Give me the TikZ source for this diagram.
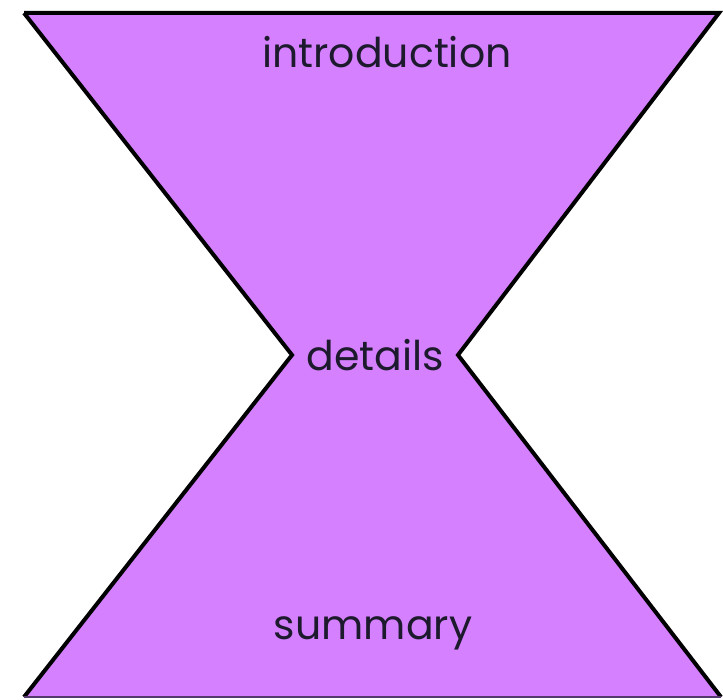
\documentclass[tikz,border=0pt]{standalone}
\usepackage{fontspec}
\setmainfont{Poppins}
\usetikzlibrary{calc}
\definecolor{hourfill}{HTML}{D580FF}
\definecolor{hourtext}{HTML}{1E1A2E}

\begin{document}
\begin{tikzpicture}[x=1pt, y=1pt, line join=miter,
    label/.style={font=\fontsize{41}{44}\selectfont, text=hourtext}]
  \useasboundingbox (0,0) rectangle (723,699);

  \coordinate (TL) at (24,686);
  \coordinate (TR) at (719,686);
  \coordinate (MR) at (458,344);
  \coordinate (BR) at (721,2);
  \coordinate (BL) at (24,2);
  \coordinate (ML) at (292,344);

  % 沙漏形
  \fill[hourfill] (TL)--(TR)--(MR)--(BR)--(BL)--(ML)--cycle;
  \draw[line width=4] (TL)--(TR)--(MR)--(BR);
  \draw[line width=4] (BL)--(ML)--(TL);
  \draw[line width=1.5, hourtext!70!hourfill] (BL)--(BR);

  \node[label] (intro) at (387,647) {introduction};
  \node[label] (details) at (375,344) {details};
  \node[label] (summary) at (373,66) {summary};
\end{tikzpicture}
\end{document}
